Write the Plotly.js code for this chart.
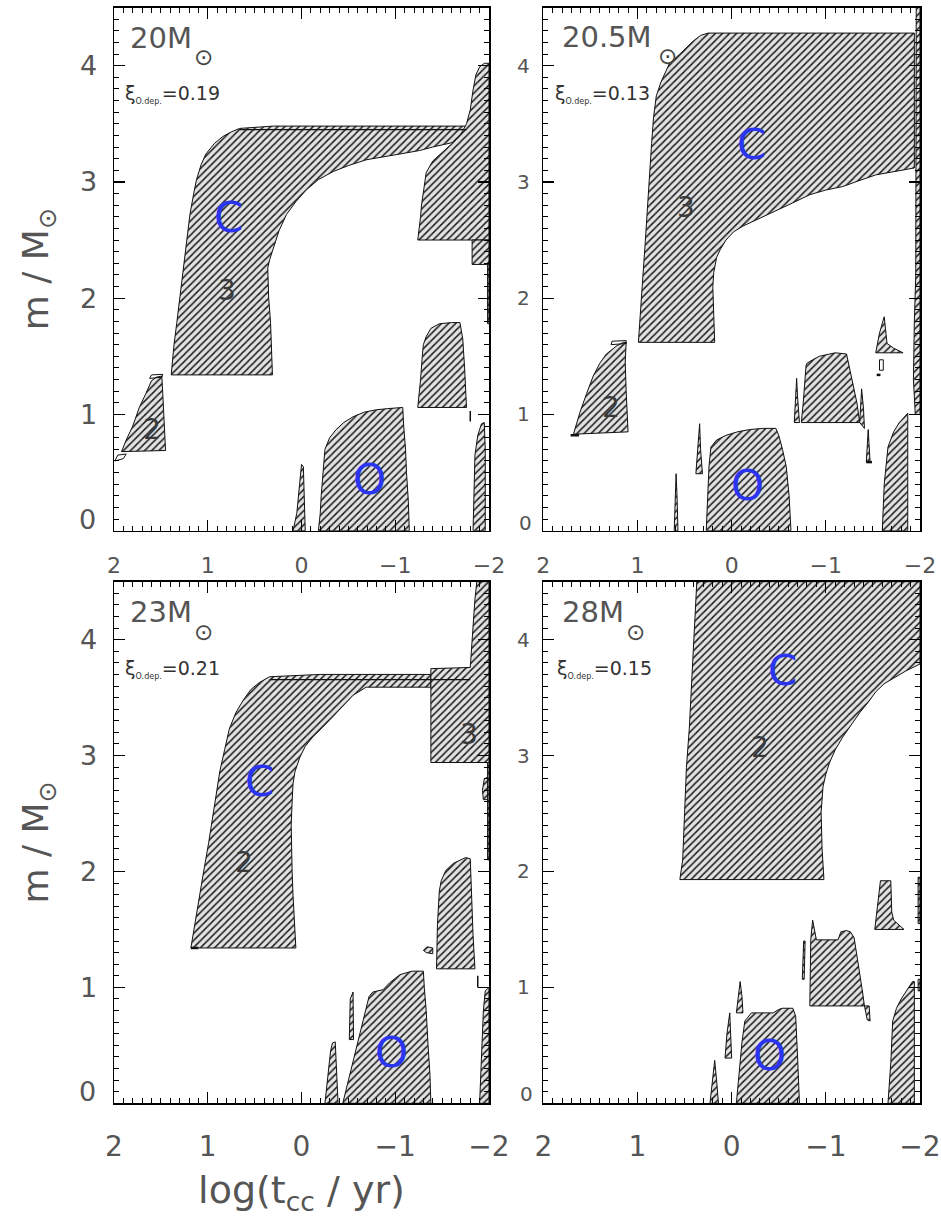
<!DOCTYPE html>
<html><head><meta charset="utf-8">
<script src="https://cdn.plot.ly/plotly-3.0.1.min.js"></script>
<style>html,body{margin:0;padding:0;background:#fff}</style>
</head><body><div id="chart" style="width:941px;height:1217px"></div>
<script>
// ---------------- data ----------------
const starMasses = ["20", "20.5", "23", "28"];
const xiODep = ["0.19", "0.13", "0.21", "0.15"];
const yTickVals = [1, 2, 3, 4];

// 20 Msun
const m20_core2_x = [1.92, 1.87, 1.80, 1.73, 1.66, 1.60, 1.55, 1.49, 1.48, 1.46, 1.45, 1.92];
const m20_core2_y = [0.68, 0.78, 0.90, 1.06, 1.18, 1.29, 1.32, 1.33, 1.18, 0.87, 0.69, 0.68];
const m20_carbon_x = [1.39, 1.36, 1.33, 1.29, 1.26, 1.22, 1.19, 1.15, 1.12, 1.07, 1.02, 0.93, 0.84, 0.75, 0.66, 0.30, -0.20, -0.70, -1.20, -1.76, -1.76, -1.62, -1.40, -1.26, -1.05, -0.85, -0.69, -0.50, -0.34, -0.18, -0.05, 0.06, 0.16, 0.24, 0.30, 0.34, 0.36, 0.35, 0.33, 0.31, 1.39];
const m20_carbon_y = [1.34, 1.60, 1.79, 2.05, 2.26, 2.50, 2.72, 2.90, 3.02, 3.15, 3.24, 3.33, 3.39, 3.43, 3.46, 3.48, 3.48, 3.48, 3.48, 3.48, 3.40, 3.34, 3.30, 3.27, 3.24, 3.21, 3.19, 3.14, 3.09, 3.02, 2.93, 2.83, 2.72, 2.58, 2.44, 2.33, 2.26, 2.00, 1.79, 1.34, 1.34];
const m20_outer_x = [-1.24, -2.00, -2.00, -1.95, -1.90, -1.86, -1.83, -1.80, -1.76, -1.70, -1.62, -1.50, -1.40, -1.33, -1.30, -1.28, -1.27, -1.24];
const m20_outer_y = [2.50, 2.50, 4.02, 4.02, 3.99, 3.92, 3.79, 3.62, 3.50, 3.41, 3.34, 3.25, 3.18, 3.08, 2.93, 2.80, 2.70, 2.50];
const m20_step_x = [-1.82, -2.00, -2.00, -1.82, -1.82];
const m20_step_y = [2.29, 2.29, 2.50, 2.50, 2.29];
const m20_strip_x = [-1.985, -2.00, -2.00, -1.985, -1.985];
const m20_strip_y = [1.78, 1.78, 2.29, 2.29, 1.78];
const m20_mid_x = [-1.24, -1.76, -1.74, -1.72, -1.69, -1.60, -1.47, -1.38, -1.33, -1.30, -1.29, -1.27, -1.24];
const m20_mid_y = [1.06, 1.06, 1.40, 1.65, 1.79, 1.79, 1.78, 1.74, 1.67, 1.60, 1.52, 1.30, 1.06];
const m20_oxygen_x = [-0.18, -0.20, -0.21, -0.23, -0.25, -0.30, -0.37, -0.45, -0.55, -0.67, -0.80, -0.92, -1.05, -1.08, -1.09, -1.11, -1.12, -1.14, -1.15, -0.18];
const m20_oxygen_y = [0.00, 0.15, 0.30, 0.50, 0.70, 0.80, 0.87, 0.93, 0.98, 1.02, 1.04, 1.05, 1.06, 1.06, 0.90, 0.70, 0.50, 0.25, 0.00, 0.00];
const m20_spike_x = [0.09, 0.05, 0.02, 0.00, -0.02, -0.03, -0.04, 0.09];
const m20_spike_y = [0.00, 0.15, 0.40, 0.57, 0.55, 0.30, 0.00, 0.00];
const m20_edge_x = [-1.83, -1.84, -1.85, -1.88, -1.92, -1.95, -1.96, -1.96, -1.83];
const m20_edge_y = [0.00, 0.35, 0.65, 0.82, 0.92, 0.93, 0.70, 0.00, 0.00];
const m20_loopA_x = [1.99, 1.90, 1.87, 1.96, 1.99];
const m20_loopA_y = [0.60, 0.62, 0.66, 0.65, 0.60];
const m20_loopB_x = [1.62, 1.49, 1.48, 1.60, 1.62];
const m20_loopB_y = [1.31, 1.32, 1.345, 1.34, 1.31];
const m20_band_x = [0.66, -1.76];
const m20_band_y = [3.45, 3.45];
const m20_tick_x = [-1.80, -1.80];
const m20_tick_y = [0.94, 1.03];

// 20.5 Msun
const m205_carbon_x = [0.99, 0.97, 0.95, 0.92, 0.90, 0.87, 0.85, 0.83, 0.80, 0.75, 0.66, 0.55, 0.47, 0.41, 0.33, 0.25, -0.50, -1.20, -1.94, -1.94, -1.71, -1.53, -1.35, -1.18, -1.00, -0.83, -0.65, -0.47, -0.30, -0.12, -0.02, 0.06, 0.12, 0.16, 0.19, 0.20, 0.19, 0.18, 0.99];
const m205_carbon_y = [1.62, 1.90, 2.10, 2.45, 2.72, 3.05, 3.33, 3.55, 3.74, 3.86, 4.02, 4.10, 4.16, 4.21, 4.26, 4.28, 4.28, 4.28, 4.28, 3.12, 3.09, 3.06, 3.01, 2.96, 2.93, 2.89, 2.82, 2.75, 2.69, 2.62, 2.57, 2.50, 2.42, 2.35, 2.22, 2.10, 1.85, 1.62, 1.62];
const m205_core2_x = [1.68, 1.61, 1.54, 1.47, 1.40, 1.33, 1.22, 1.15, 1.12, 1.13, 1.12, 1.11, 1.10, 1.68];
const m205_core2_y = [0.83, 1.02, 1.18, 1.33, 1.44, 1.52, 1.59, 1.62, 1.62, 1.45, 1.20, 1.00, 0.85, 0.83];
const m205_oxygen_x = [0.27, 0.25, 0.24, 0.22, 0.16, 0.06, -0.06, -0.19, -0.33, -0.47, -0.50, -0.54, -0.58, -0.61, -0.63, 0.27];
const m205_oxygen_y = [0.00, 0.30, 0.56, 0.72, 0.78, 0.82, 0.85, 0.87, 0.88, 0.88, 0.82, 0.70, 0.55, 0.30, 0.00, 0.00];
const m205_spikeA_x = [0.61, 0.60, 0.59, 0.58, 0.57, 0.61];
const m205_spikeA_y = [0.00, 0.25, 0.49, 0.30, 0.00, 0.00];
const m205_spikeB_x = [0.38, 0.36, 0.34, 0.33, 0.31, 0.38];
const m205_spikeB_y = [0.49, 0.70, 0.92, 0.70, 0.49, 0.49];
const m205_mid_x = [-0.74, -1.36, -1.33, -1.28, -1.22, -1.10, -1.04, -0.93, -0.86, -0.80, -0.79, -0.78, -0.76, -0.74];
const m205_mid_y = [0.93, 0.93, 1.10, 1.30, 1.52, 1.53, 1.52, 1.50, 1.47, 1.44, 1.42, 1.30, 1.10, 0.93];
const m205_sliverA_x = [-0.665, -0.68, -0.69, -0.70, -0.72, -0.665];
const m205_sliverA_y = [0.93, 1.15, 1.31, 1.15, 0.93, 0.93];
const m205_sliverB_x = [-1.36, -1.38, -1.40, -1.41, -1.36];
const m205_sliverB_y = [0.93, 1.22, 1.05, 0.88, 0.93];
const m205_sliverC_x = [-1.43, -1.45, -1.47, -1.43];
const m205_sliverC_y = [0.59, 0.87, 0.59, 0.59];
const m205_tri_x = [-1.53, -1.57, -1.62, -1.64, -1.65, -1.72, -1.82, -1.53];
const m205_tri_y = [1.53, 1.70, 1.84, 1.70, 1.61, 1.57, 1.53, 1.53];
const m205_edge_x = [-1.60, -1.62, -1.66, -1.72, -1.78, -1.84, -1.87, -1.87, -1.60];
const m205_edge_y = [0.00, 0.40, 0.72, 0.85, 0.93, 0.99, 1.01, 0.00, 0.00];
const m205_strip_x = [-1.95, -1.93, -1.94, -1.955, -1.96, -2.00, -2.00, -1.95];
const m205_strip_y = [1.00, 1.30, 1.80, 2.20, 4.50, 4.50, 1.00, 1.00];
const m205_loopA_x = [1.28, 1.12, 1.12, 1.27, 1.28];
const m205_loopA_y = [1.60, 1.61, 1.635, 1.63, 1.60];
const m205_loopB_x = [-1.57, -1.61, -1.61, -1.57, -1.57];
const m205_loopB_y = [1.38, 1.38, 1.47, 1.47, 1.38];
const m205_dashA_x = [1.71, 1.62];
const m205_dashA_y = [0.82, 0.82];
const m205_dashB_x = [-1.43, -1.49];
const m205_dashB_y = [0.59, 0.59];
const m205_dashC_x = [-1.54, -1.58];
const m205_dashC_y = [1.34, 1.34];

// 23 Msun
const m23_carbon_x = [1.18, 1.12, 1.05, 0.99, 0.94, 0.90, 0.87, 0.82, 0.77, 0.70, 0.62, 0.54, 0.45, 0.34, -0.20, -0.80, -1.38, -1.38, -1.00, -0.69, -0.55, -0.45, -0.34, -0.22, -0.12, -0.04, 0.02, 0.07, 0.09, 0.10, 0.11, 0.10, 0.09, 0.06, 1.18];
const m23_carbon_y = [1.34, 1.65, 1.97, 2.25, 2.51, 2.70, 2.87, 3.05, 3.23, 3.37, 3.48, 3.57, 3.63, 3.68, 3.70, 3.70, 3.70, 3.59, 3.59, 3.59, 3.52, 3.43, 3.34, 3.24, 3.16, 3.08, 2.98, 2.86, 2.76, 2.60, 2.40, 2.00, 1.79, 1.34, 1.34];
const m23_outer_x = [-1.38, -2.00, -2.00, -1.87, -1.85, -1.83, -1.81, -1.80, -1.38, -1.38];
const m23_outer_y = [2.94, 2.94, 4.50, 4.50, 4.35, 4.13, 3.90, 3.76, 3.75, 2.94];
const m23_blob_x = [-1.93, -1.95, -2.00, -2.00, -1.94, -1.93];
const m23_blob_y = [2.70, 2.80, 2.82, 2.62, 2.62, 2.70];
const m23_strip_x = [-1.985, -2.00, -2.00, -1.985, -1.985];
const m23_strip_y = [2.10, 2.10, 2.94, 2.94, 2.10];
const m23_mid_x = [-1.44, -1.85, -1.83, -1.81, -1.80, -1.75, -1.72, -1.62, -1.54, -1.49, -1.47, -1.45, -1.44];
const m23_mid_y = [1.16, 1.16, 1.45, 1.80, 2.11, 2.12, 2.11, 2.07, 2.01, 1.92, 1.83, 1.54, 1.16];
const m23_blob2_x = [-1.30, -1.34, -1.40, -1.40, -1.33, -1.30];
const m23_blob2_y = [1.32, 1.35, 1.34, 1.29, 1.30, 1.32];
const m23_oxygen_x = [-0.44, -0.50, -0.56, -0.60, -0.65, -0.69, -0.72, -0.76, -0.82, -0.87, -0.94, -1.05, -1.18, -1.30, -1.31, -1.33, -1.35, -1.37, -1.38, -0.44];
const m23_oxygen_y = [0.00, 0.20, 0.40, 0.53, 0.68, 0.82, 0.92, 0.96, 0.97, 0.98, 1.04, 1.11, 1.14, 1.14, 1.00, 0.80, 0.50, 0.25, 0.00, 0.00];
const m23_spike_x = [-0.25, -0.28, -0.31, -0.33, -0.36, -0.37, -0.39, -0.25];
const m23_spike_y = [0.00, 0.25, 0.45, 0.52, 0.53, 0.35, 0.00, 0.00];
const m23_sliver_x = [-0.51, -0.52, -0.55, -0.555, -0.51];
const m23_sliver_y = [0.55, 0.90, 0.96, 0.55, 0.55];
const m23_edge_x = [-1.90, -1.92, -1.94, -1.96, -1.99, -2.00, -2.00, -1.90];
const m23_edge_y = [0.00, 0.40, 0.80, 0.97, 1.00, 1.00, 0.00, 0.00];
const m23_band_x = [0.34, -1.80];
const m23_band_y = [3.655, 3.655];
const m23_dash_x = [1.18, 1.10];
const m23_dash_y = [1.34, 1.34];
const m23_tick_x = [-1.88, -1.88];
const m23_tick_y = [1.00, 1.10];

// 28 Msun
const m28_carbon_x = [0.55, 0.52, 0.50, 0.48, 0.45, 0.42, 0.39, 0.37, -2.00, -2.00, -1.85, -1.71, -1.62, -1.53, -1.45, -1.36, -1.27, -1.18, -1.10, -1.04, -1.00, -0.97, -0.95, -0.96, -0.98, 0.55];
const m28_carbon_y = [1.93, 2.10, 2.50, 2.90, 3.23, 3.70, 4.20, 4.50, 4.50, 3.79, 3.73, 3.66, 3.62, 3.55, 3.46, 3.37, 3.27, 3.16, 3.05, 2.94, 2.84, 2.73, 2.51, 2.20, 1.93, 1.93];
const m28_oxygen_x = [-0.05, -0.08, -0.11, -0.14, -0.21, -0.44, -0.50, -0.54, -0.65, -0.68, -0.69, -0.70, -0.72, -0.05];
const m28_oxygen_y = [0.00, 0.30, 0.53, 0.71, 0.78, 0.78, 0.81, 0.82, 0.82, 0.75, 0.60, 0.40, 0.00, 0.00];
const m28_spikeA_x = [0.23, 0.20, 0.18, 0.16, 0.14, 0.23];
const m28_spikeA_y = [0.00, 0.25, 0.37, 0.20, 0.00, 0.00];
const m28_spikeB_x = [0.07, 0.05, 0.02, 0.01, 0.00, 0.07];
const m28_spikeB_y = [0.39, 0.60, 0.78, 0.60, 0.39, 0.39];
const m28_spikeC_x = [-0.05, -0.07, -0.09, -0.11, -0.12, -0.05];
const m28_spikeC_y = [0.78, 0.92, 1.05, 0.92, 0.78, 0.78];
const m28_mid_x = [-0.83, -1.41, -1.39, -1.37, -1.34, -1.30, -1.26, -1.22, -1.16, -1.13, -0.90, -0.88, -0.86, -0.84, -0.83];
const m28_mid_y = [0.84, 0.84, 0.96, 1.07, 1.25, 1.43, 1.48, 1.49, 1.48, 1.41, 1.41, 1.50, 1.58, 1.41, 0.84];
const m28_tail_x = [-1.41, -1.46, -1.47, -1.44, -1.41];
const m28_tail_y = [0.84, 0.84, 0.71, 0.72, 0.84];
const m28_sliver_x = [-0.75, -0.765, -0.78, -0.77, -0.75];
const m28_sliver_y = [1.07, 1.40, 1.40, 1.07, 1.07];
const m28_tri_x = [-1.52, -1.55, -1.58, -1.69, -1.70, -1.72, -1.83, -1.52];
const m28_tri_y = [1.50, 1.70, 1.92, 1.92, 1.65, 1.58, 1.50, 1.50];
const m28_edge_x = [-1.66, -1.69, -1.71, -1.75, -1.80, -1.86, -1.92, -1.94, -1.94, -1.66];
const m28_edge_y = [0.00, 0.35, 0.71, 0.82, 0.90, 0.98, 1.05, 1.05, 0.00, 0.00];
const m28_stripA_x = [-1.98, -2.00, -2.00, -1.98, -1.98];
const m28_stripA_y = [1.55, 1.55, 1.95, 1.95, 1.55];
const m28_stripB_x = [-1.98, -2.00, -2.00, -1.98, -1.98];
const m28_stripB_y = [0.97, 0.97, 1.07, 1.07, 0.97];

// ---------------- assembly ----------------
const panels = [
  { ax: '', zones: [[m20_core2_x, m20_core2_y], [m20_carbon_x, m20_carbon_y], [m20_outer_x, m20_outer_y], [m20_step_x, m20_step_y], [m20_strip_x, m20_strip_y], [m20_mid_x, m20_mid_y], [m20_oxygen_x, m20_oxygen_y], [m20_spike_x, m20_spike_y], [m20_edge_x, m20_edge_y]],
    lines: [[m20_loopA_x, m20_loopA_y, 1], [m20_loopB_x, m20_loopB_y, 1], [m20_band_x, m20_band_y, 1.2], [m20_tick_x, m20_tick_y, 1.5]] },
  { ax: '2', zones: [[m205_carbon_x, m205_carbon_y], [m205_core2_x, m205_core2_y], [m205_oxygen_x, m205_oxygen_y], [m205_spikeA_x, m205_spikeA_y], [m205_spikeB_x, m205_spikeB_y], [m205_mid_x, m205_mid_y], [m205_sliverA_x, m205_sliverA_y], [m205_sliverB_x, m205_sliverB_y], [m205_sliverC_x, m205_sliverC_y], [m205_tri_x, m205_tri_y], [m205_edge_x, m205_edge_y], [m205_strip_x, m205_strip_y]],
    lines: [[m205_loopA_x, m205_loopA_y, 1], [m205_loopB_x, m205_loopB_y, 1], [m205_dashA_x, m205_dashA_y, 2.5], [m205_dashB_x, m205_dashB_y, 2.5], [m205_dashC_x, m205_dashC_y, 2.5]] },
  { ax: '3', zones: [[m23_carbon_x, m23_carbon_y], [m23_outer_x, m23_outer_y], [m23_blob_x, m23_blob_y], [m23_strip_x, m23_strip_y], [m23_mid_x, m23_mid_y], [m23_blob2_x, m23_blob2_y], [m23_oxygen_x, m23_oxygen_y], [m23_spike_x, m23_spike_y], [m23_sliver_x, m23_sliver_y], [m23_edge_x, m23_edge_y]],
    lines: [[m23_band_x, m23_band_y, 1.2], [m23_dash_x, m23_dash_y, 2.5], [m23_tick_x, m23_tick_y, 1.5]] },
  { ax: '4', zones: [[m28_carbon_x, m28_carbon_y], [m28_oxygen_x, m28_oxygen_y], [m28_spikeA_x, m28_spikeA_y], [m28_spikeB_x, m28_spikeB_y], [m28_spikeC_x, m28_spikeC_y], [m28_mid_x, m28_mid_y], [m28_tail_x, m28_tail_y], [m28_sliver_x, m28_sliver_y], [m28_tri_x, m28_tri_y], [m28_edge_x, m28_edge_y], [m28_stripA_x, m28_stripA_y], [m28_stripB_x, m28_stripB_y]],
    lines: [] }
];

const traces = [];
panels.forEach(p => {
  p.zones.forEach(z => {
    traces.push({
      type: 'scatter', mode: 'lines', x: z[0], y: z[1],
      xaxis: 'x' + p.ax, yaxis: 'y' + p.ax,
      fill: 'toself', fillcolor: '#e2e2e2',
      fillpattern: { shape: '/', fgcolor: '#1c1c1c', bgcolor: '#e2e2e2', size: 5, solidity: 0.3 },
      line: { color: '#111', width: 1 },
      hoverinfo: 'skip', showlegend: false
    });
  });
  p.lines.forEach(l => {
    traces.push({
      type: 'scatter', mode: 'lines', x: l[0], y: l[1],
      xaxis: 'x' + p.ax, yaxis: 'y' + p.ax,
      line: { color: '#111', width: l[2] },
      hoverinfo: 'skip', showlegend: false
    });
  });
});

const FONT = 'DejaVu Sans';
const W = 941, H = 1217;
const px = v => v / W;
const py = v => 1 - v / H;

function xAxis(domain, anchor, size, standoff) {
  return {
    domain: domain, anchor: anchor, range: [2, -2], autorange: false,
    tickmode: 'linear', tick0: 0, dtick: 1,
    ticks: 'inside', ticklen: 11, tickwidth: 1.2, tickcolor: '#000',
    showline: true, linecolor: '#000', linewidth: 1.5, mirror: 'ticks',
    showgrid: false, zeroline: false,
    tickfont: { family: FONT, size: size, color: '#555' },
    ticklabelstandoff: standoff, ticklabeloverflow: 'allow',
    minor: { dtick: 0.1, tick0: 0, ticks: 'inside', ticklen: 5, tickwidth: 1, tickcolor: '#000', showgrid: false },
    fixedrange: true
  };
}
function yAxis(domain, anchor, size, standoff) {
  return {
    domain: domain, anchor: anchor, range: [0, 4.5], autorange: false,
    tickmode: 'array', tickvals: yTickVals,
    ticks: 'inside', ticklen: 11, tickwidth: 1.2, tickcolor: '#000',
    showline: true, linecolor: '#000', linewidth: 1.5, mirror: 'ticks',
    showgrid: false, zeroline: false,
    tickfont: { family: FONT, size: size, color: '#555' },
    ticklabelstandoff: standoff,
    minor: { tickmode: 'linear', dtick: 0.1, tick0: 0, ticks: 'inside', ticklen: 5, tickwidth: 1, tickcolor: '#000', showgrid: false },
    fixedrange: true
  };
}

const xL = [px(114), px(489)], xR = [px(543.3), px(920)];
const yT = [py(530.7), py(7.5)], yB = [py(1103.3), py(581.7)];

const layout = {
  width: W, height: H, margin: { l: 0, r: 0, t: 0, b: 0 },
  paper_bgcolor: '#fff', plot_bgcolor: '#fff', showlegend: false,
  font: { family: FONT, color: '#555' },
  xaxis: xAxis(xL, 'y', 22, 14),
  yaxis: Object.assign(yAxis(yT, 'x', 27, 10), { title: { text: 'm / M<sub>⊙</sub>', font: { family: FONT, size: 36, color: '#555' }, standoff: 20 } }),
  xaxis2: xAxis(xR, 'y2', 22, 14),
  yaxis2: yAxis(yT, 'x2', 20, 8),
  xaxis3: Object.assign(xAxis(xL, 'y3', 28, 18), { title: { text: 'log(t<sub>cc</sub> / yr)', font: { family: FONT, size: 38, color: '#555' }, standoff: 16 } }),
  yaxis3: Object.assign(yAxis(yB, 'x3', 27, 10), { title: { text: 'm / M<sub>⊙</sub>', font: { family: FONT, size: 36, color: '#555' }, standoff: 20 } }),
  xaxis4: xAxis(xR, 'y4', 28, 18),
  yaxis4: yAxis(yB, 'x4', 20, 8),
  annotations: []
};

const ann = layout.annotations;
// panel headers
const massPos = [[128, 38], [560, 37], [128, 612], [560, 612]];
const sunPos = [[203, 57], [667, 56], [203, 632], [635, 632]];
const xiPos = [[123, 94.5], [553, 94.5], [123, 668.6], [555, 668.6]];
const zeroPos = [[98, 519, 27], [534, 523, 20], [98, 1091.7, 27], [535, 1093.7, 20]];
starMasses.forEach((m, i) => {
  ann.push({ xref: 'paper', yref: 'paper', x: px(massPos[i][0]), y: py(massPos[i][1]), xanchor: 'left', yanchor: 'middle', showarrow: false,
    text: m + 'M', font: { family: FONT, size: 29, color: '#555' } });
  ann.push({ xref: 'paper', yref: 'paper', x: px(sunPos[i][0]), y: py(sunPos[i][1]), xanchor: 'center', yanchor: 'middle', showarrow: false,
    text: '⊙', font: { family: FONT, size: 23, color: '#444' } });
  ann.push({ xref: 'paper', yref: 'paper', x: px(xiPos[i][0]), y: py(xiPos[i][1]), xanchor: 'left', yanchor: 'middle', showarrow: false,
    text: 'ξ<sub><span style="font-size:8px">O.dep.</span></sub>=' + xiODep[i], font: { family: FONT, size: 19, color: '#333' } });
  ann.push({ xref: 'paper', yref: 'paper', x: px(zeroPos[i][0]), y: py(zeroPos[i][1]), xanchor: 'right', yanchor: 'middle', showarrow: false,
    text: '0', font: { family: FONT, size: zeroPos[i][2], color: '#555' } });
});

// zone labels (data coordinates)
const blue = '#2b35f0';
function lab(ax, x, y, t, big) {
  ann.push({ xref: 'x' + ax, yref: 'y' + ax, x: x, y: y, showarrow: false, text: t,
    font: { family: FONT, size: big ? 42 : 28, color: big ? blue : '#3a3a3a' } });
}
lab('', 0.78, 2.69, 'C', true); lab('', -0.73, 0.44, 'O', true);
lab('', 0.80, 2.07, '3', false); lab('', 1.60, 0.87, '2', false);
lab('2', -0.21, 3.32, 'C', true); lab('2', -0.17, 0.39, 'O', true);
lab('2', 0.48, 2.78, '3', false); lab('2', 1.28, 1.06, '2', false);
lab('3', 0.45, 2.78, 'C', true); lab('3', -0.96, 0.44, 'O', true);
lab('3', 0.61, 2.08, '2', false); lab('3', -1.79, 3.18, '3', false);
lab('4', -0.54, 3.73, 'C', true); lab('4', -0.40, 0.41, 'O', true);
lab('4', -0.30, 3.07, '2', false);

Plotly.newPlot('chart', traces, layout, { staticPlot: true, displayModeBar: false });
</script>
</body></html>
